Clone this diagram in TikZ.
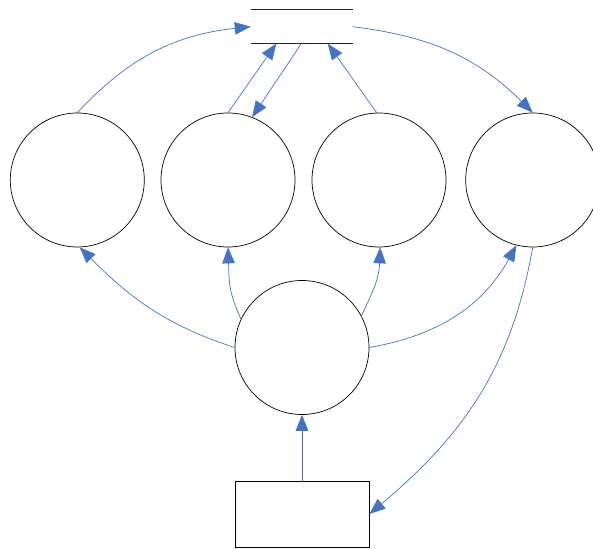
\documentclass[tikz,border=0pt]{standalone}
\usetikzlibrary{arrows.meta,calc}
\definecolor{flow}{HTML}{4472C4}
\tikzset{
  proc/.style={circle,draw=black,line width=0.7pt,minimum size=134pt,inner sep=0pt},
  ent/.style={rectangle,draw=black,line width=0.8pt,minimum width=134pt,minimum height=66pt,inner sep=0pt},
  store/.style={rectangle,minimum width=101.5pt,minimum height=33.5pt,inner sep=0pt},
  flowline/.style={draw=flow,line width=0.7pt,-{Triangle[length=16pt,width=12.5pt]}}
}
\begin{document}
\begin{tikzpicture}[x=1pt,y=1pt]
\useasboundingbox (0,0) rectangle (593,548);
\clip (0,0) rectangle (593,548);
\node[store] (s) at (301.75,521.3) {};
\draw[line width=0.8pt,black!85] (s.north west) -- (s.north east);
\draw[line width=0.8pt,black!85] (s.south west) -- (s.south east);
\node[proc] (c1) at (77.3,368) {};
\node[proc] (c2) at (228,368) {};
\node[proc] (c3) at (379,368) {};
\node[proc] (c4) at (532.7,368) {};
\node[proc] (c0) at (302,200.5) {};
\node[ent] (r) at (302,34) {};
\coordinate (sb1) at ($(s.south west)+(25.5,0)$);
\coordinate (sb2) at ($(s.south west)+(50.5,0)$);
\coordinate (sb3) at ($(s.south west)+(77,0)$);
% flows
\draw[flowline] (c1.north) to[out=47,in=186] (s.west);
\draw[flowline] (c2.north) -- (sb1);
\draw[flowline] (sb2) -- (c2.69);
\draw[flowline] (c3.92) -- (sb3);
\draw[flowline] (s.east) to[out=-7,in=135] (c4.north);
\draw[flowline] (c0.west) to[out=162,in=-45] (c1.-88);
\draw[flowline] (c0.155) to[out=115,in=-88,looseness=1.1] (c2.south);
\draw[flowline] (c0.28) to[out=65,in=-92,looseness=1.1] (c3.-89);
\draw[flowline] (c0.east) to[out=10,in=-119] (c4.-104);
\draw[flowline] (c4.south) to[out=-100,in=40] (r.east);
\draw[flowline] (r.north) -- (c0.south);
\end{tikzpicture}
\end{document}
